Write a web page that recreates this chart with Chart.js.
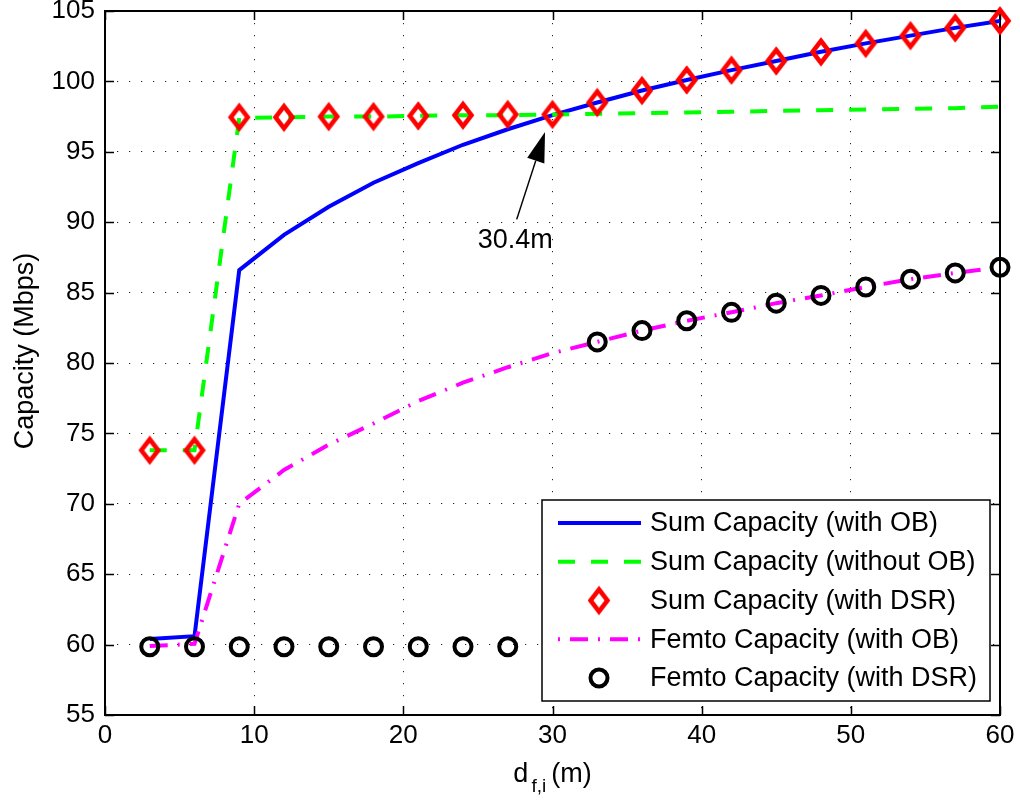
<!DOCTYPE html>
<html>
<head>
<meta charset="utf-8">
<script src="https://cdn.jsdelivr.net/npm/chart.js@4.4.1/dist/chart.umd.min.js"></script>
<style>
  html, body { margin: 0; padding: 0; background: #fff; }
  #wrap { width: 1020px; height: 801px; position: relative; }
</style>
</head>
<body>
<div id="wrap"><canvas id="chart"></canvas></div>
<script>
// Capacity vs. femto distance d_f,i

const distances = [3, 6, 9, 12, 15, 18, 21, 24, 27, 30, 33, 36, 39, 42, 45, 48, 51, 54, 57, 60];

const sumWithOB    = [60.4, 60.6, 86.6, 89.1, 91.1, 92.8, 94.2, 95.5, 96.6, 97.6, 98.5, 99.35, 100.1, 100.8, 101.45, 102.1, 102.7, 103.25, 103.8, 104.3];
const sumWithoutOB = [73.8, 73.8, 97.4, 97.45, 97.5, 97.5, 97.55, 97.6, 97.6, 97.65, 97.7, 97.75, 97.8, 97.85, 97.9, 97.95, 98.0, 98.05, 98.1, 98.2];
const sumWithDSR   = [73.8, 73.8, 97.45, 97.45, 97.5, 97.5, 97.55, 97.6, 97.65, 97.65, 98.5, 99.35, 100.1, 100.8, 101.45, 102.1, 102.7, 103.25, 103.8, 104.3];
const femtoWithOB  = [59.9, 60.05, 70.0, 72.4, 74.2, 75.7, 77.3, 78.6, 79.7, 80.7, 81.5, 82.3, 83.0, 83.6, 84.25, 84.8, 85.4, 85.95, 86.4, 86.8];
const femtoWithDSR = [59.85, 59.85, 59.85, 59.85, 59.85, 59.85, 59.85, 59.85, 59.85, null, 81.5, 82.3, 83.0, 83.6, 84.25, 84.8, 85.4, 85.95, 86.4, 86.8];

const seriesLabels = [
    'Sum Capacity (with OB)',
    'Sum Capacity (without OB)',
    'Sum Capacity (with DSR)',
    'Femto Capacity (with OB)',
    'Femto Capacity (with DSR)'
];

const xTicks = [0, 10, 20, 30, 40, 50, 60];
const yTicks = [55, 60, 65, 70, 75, 80, 85, 90, 95, 100, 105];

// crossover note: text + arrow (data coords)
const noteText = '30.4m';
const noteTextAt = [27.5, 88.2];
const noteTail = [27.6, 90.2];
const noteTip = [29.5, 96.4];

const FONT = "'Liberation Sans', Arial, Helvetica, sans-serif";

function pts(values) {
    return distances.map(function(d, i) { return { x: d, y: values[i] }; });
}

// matlab style diamond (taller than wide)
function makeDiamond() {
    const c = document.createElement('canvas');
    c.width = 28; c.height = 34;
    const g = c.getContext('2d');
    g.strokeStyle = '#ff0000';
    g.lineWidth = 4.5;
    g.lineJoin = 'miter';
    g.beginPath();
    g.moveTo(14, 6); g.lineTo(22.5, 17); g.lineTo(14, 28); g.lineTo(5.5, 17);
    g.closePath();
    g.stroke();
    return c;
}
const diamond = makeDiamond();

const legendStyles = [
    { kind: 'line', color: '#0000ff', dash: [], offset: 0 },
    { kind: 'line', color: '#00ff00', dash: [17, 16], offset: 0 },
    { kind: 'diamond' },
    { kind: 'line', color: '#ff00ff', dash: [18, 10, 2, 10], offset: 28 },
    { kind: 'circle' }
];

const matlabFrame = {
    id: 'matlabFrame',
    beforeDatasetsDraw(chart) {
        const ctx = chart.ctx, a = chart.chartArea;
        const sx = chart.scales.x, sy = chart.scales.y;
        ctx.save();
        ctx.strokeStyle = '#000';
        ctx.lineWidth = 1.5;
        ctx.beginPath();
        xTicks.forEach(function(v) {
            const px = Math.round(sx.getPixelForValue(v)) + 0.5;
            ctx.moveTo(px, a.bottom); ctx.lineTo(px, a.bottom - 9);
            ctx.moveTo(px, a.top); ctx.lineTo(px, a.top + 9);
        });
        yTicks.forEach(function(v) {
            const py = Math.round(sy.getPixelForValue(v)) + 0.5;
            ctx.moveTo(a.left, py); ctx.lineTo(a.left + 9, py);
            ctx.moveTo(a.right, py); ctx.lineTo(a.right - 9, py);
        });
        ctx.stroke();
        ctx.lineWidth = 2;
        ctx.strokeRect(a.left, a.top, a.right - a.left, a.bottom - a.top);
        ctx.restore();
    },
    afterDraw(chart) {
        const ctx = chart.ctx, a = chart.chartArea;
        const sx = chart.scales.x, sy = chart.scales.y;
        ctx.save();

        // arrow + note
        const tx = sx.getPixelForValue(noteTail[0]), ty = sy.getPixelForValue(noteTail[1]);
        const hx = sx.getPixelForValue(noteTip[0]), hy = sy.getPixelForValue(noteTip[1]);
        const ang = Math.atan2(hy - ty, hx - tx);
        const headLen = 30, headW = 9;
        const bx = hx - headLen * Math.cos(ang), by = hy - headLen * Math.sin(ang);
        ctx.strokeStyle = '#000';
        ctx.fillStyle = '#000';
        ctx.lineWidth = 1.5;
        ctx.beginPath();
        ctx.moveTo(tx, ty); ctx.lineTo(bx, by);
        ctx.stroke();
        ctx.beginPath();
        ctx.moveTo(hx, hy);
        ctx.lineTo(bx + headW * Math.sin(ang), by - headW * Math.cos(ang));
        ctx.lineTo(bx - headW * Math.sin(ang), by + headW * Math.cos(ang));
        ctx.closePath();
        ctx.fill();

        ctx.font = '27px ' + FONT;
        ctx.textAlign = 'center';
        ctx.textBaseline = 'alphabetic';
        ctx.fillText(noteText, sx.getPixelForValue(noteTextAt[0]), sy.getPixelForValue(noteTextAt[1]));

        // legend
        const lx = 542, ly = 500, lw = 448, lh = 201;
        ctx.fillStyle = '#fff';
        ctx.fillRect(lx, ly, lw, lh);
        ctx.strokeStyle = '#000';
        ctx.lineWidth = 1.5;
        ctx.strokeRect(lx, ly, lw, lh);
        seriesLabels.forEach(function(label, i) {
            const cy = 523 + i * 38.75;
            const st = legendStyles[i];
            if (st.kind === 'line') {
                ctx.strokeStyle = st.color;
                ctx.lineWidth = 4;
                ctx.setLineDash(st.dash);
                ctx.lineDashOffset = st.offset;
                ctx.beginPath();
                ctx.moveTo(558, cy); ctx.lineTo(641, cy);
                ctx.stroke();
                ctx.setLineDash([]);
                ctx.lineDashOffset = 0;
            } else if (st.kind === 'diamond') {
                ctx.drawImage(diamond, 599 - 14, cy - 17);
            } else {
                ctx.strokeStyle = '#000';
                ctx.lineWidth = 4;
                ctx.beginPath();
                ctx.arc(599, cy, 8.5, 0, Math.PI * 2);
                ctx.stroke();
            }
            ctx.fillStyle = '#000';
            ctx.font = '27px ' + FONT;
            ctx.textAlign = 'left';
            ctx.textBaseline = 'middle';
            ctx.fillText(label, 650, cy + 1);
        });

        // x title: d_{f,i} (m)
        ctx.fillStyle = '#000';
        ctx.textBaseline = 'alphabetic';
        ctx.textAlign = 'left';
        ctx.font = '27px ' + FONT;
        const wD = ctx.measureText('d').width;
        const wM = ctx.measureText('(m)').width;
        ctx.font = '19px ' + FONT;
        const wS = ctx.measureText('f,i').width;
        const total = wD + 3 + wS + 5 + wM;
        let x0 = (a.left + a.right) / 2 - total / 2;
        ctx.font = '27px ' + FONT;
        ctx.fillText('d', x0, 782);
        ctx.font = '19px ' + FONT;
        ctx.fillText('f,i', x0 + wD + 3, 792);
        ctx.font = '27px ' + FONT;
        ctx.fillText('(m)', x0 + wD + 3 + wS + 5, 782);

        // y title
        ctx.translate(33, 351);
        ctx.rotate(-Math.PI / 2);
        ctx.textAlign = 'center';
        ctx.fillText('Capacity (Mbps)', 0, 0);
        ctx.restore();
    }
};

new Chart(document.getElementById('chart').getContext('2d'), {
    type: 'line',
    data: {
        datasets: [
            {
                label: seriesLabels[0], data: pts(sumWithOB), order: 2,
                borderColor: '#0000ff', borderWidth: 4, pointRadius: 0, fill: false, tension: 0
            },
            {
                label: seriesLabels[1], data: pts(sumWithoutOB), order: 1,
                borderColor: '#00ff00', borderWidth: 4, borderDash: [17, 16], pointRadius: 0, fill: false, tension: 0
            },
            {
                label: seriesLabels[2], data: pts(sumWithDSR), order: 0, showLine: false, clip: false,
                pointStyle: diamond, pointRadius: 14, borderColor: '#ff0000', backgroundColor: 'transparent'
            },
            {
                label: seriesLabels[3], data: pts(femtoWithOB), order: 1,
                borderColor: '#ff00ff', borderWidth: 4, borderDash: [18, 10, 2, 10], pointRadius: 0, fill: false, tension: 0
            },
            {
                label: seriesLabels[4], data: pts(femtoWithDSR), order: 0, showLine: false, clip: false,
                pointStyle: 'circle', pointRadius: 8.5, borderWidth: 4, borderColor: '#000', backgroundColor: 'transparent'
            }
        ]
    },
    options: {
        responsive: true,
        maintainAspectRatio: false,
        animation: false,
        events: [],
        layout: { autoPadding: false, padding: { top: 11, right: 20, left: 0, bottom: 0 } },
        plugins: {
            legend: { display: false },
            tooltip: { enabled: false }
        },
        scales: {
            x: {
                type: 'linear',
                min: 0,
                max: 60,
                afterBuildTicks: function(s) { s.ticks = xTicks.map(function(v) { return { value: v }; }); },
                afterFit: function(s) { s.height = 86; s.paddingLeft = 0; s.paddingRight = 0; },
                grid: { color: '#222', lineWidth: 1, drawTicks: false },
                border: { display: false, dash: [1.2, 10.8] },
                ticks: { padding: 5, color: '#000', font: { family: FONT, size: 26 } }
            },
            y: {
                type: 'linear',
                min: 55,
                max: 105,
                afterBuildTicks: function(s) { s.ticks = yTicks.map(function(v) { return { value: v }; }); },
                afterFit: function(s) { s.width = 105; s.paddingTop = 0; s.paddingBottom = 0; },
                grid: { color: '#222', lineWidth: 1, drawTicks: false },
                border: { display: false, dash: [1.2, 10.8] },
                ticks: { padding: 10, color: '#000', font: { family: FONT, size: 26, lineHeight: 0.8 } }
            }
        }
    },
    plugins: [matlabFrame]
});
</script>
</body>
</html>
